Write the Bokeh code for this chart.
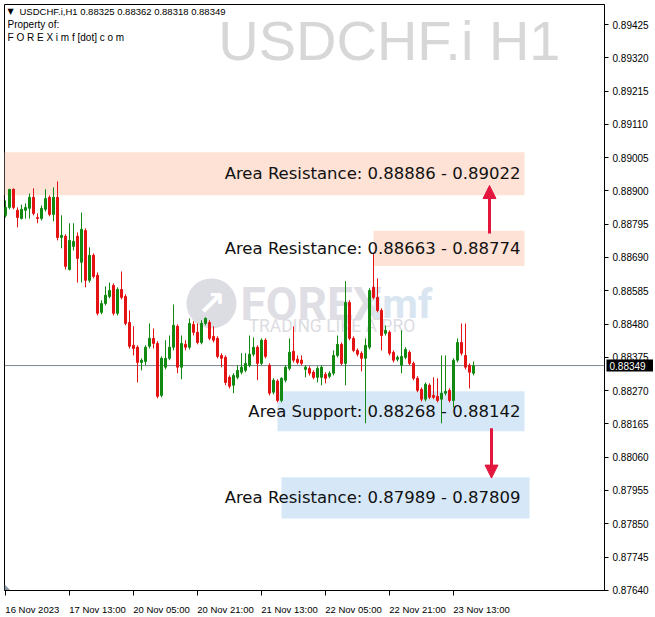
from bokeh.plotting import figure
from bokeh.models import (Range1d, LinearAxis, FixedTicker, PrintfTickFormatter, CustomJSTickFormatter,
                          ColumnDataSource, BoxAnnotation, Label, Span, Arrow, NormalHead)
from bokeh.core.properties import value
from bokeh.embed import file_html
from bokeh.resources import INLINE

# ---------------- data ----------------
symbol_info = "USDCHF.i,H1  0.88325 0.88362 0.88318 0.88349"
watermark = "USDCHF.i H1"

opens = [0.88823, 0.88848, 0.88905, 0.88839, 0.88813, 0.88839, 0.88845, 0.88880, 0.88816, 0.88813,
         0.88842, 0.88880, 0.88826, 0.88880, 0.88753, 0.88757, 0.88652, 0.88725, 0.88757, 0.88675,
         0.88775, 0.88618, 0.88697, 0.88634, 0.88517, 0.88545, 0.88567, 0.88602, 0.88514, 0.88589,
         0.88567, 0.88485, 0.88413, 0.88407, 0.88359, 0.88362, 0.88410, 0.88435, 0.88419, 0.88255,
         0.88344, 0.88372, 0.88407, 0.88473, 0.88344, 0.88416, 0.88407, 0.88479, 0.88454, 0.88422,
         0.88482, 0.88485, 0.88441, 0.88435, 0.88381, 0.88375, 0.88312, 0.88287, 0.88312, 0.88328,
         0.88334, 0.88350, 0.88385, 0.88407, 0.88356, 0.88429, 0.88350, 0.88265, 0.88300, 0.88239,
         0.88303, 0.88340, 0.88394, 0.88369, 0.88366, 0.88337, 0.88340, 0.88328, 0.88312, 0.88312,
         0.88321, 0.88315, 0.88325, 0.88381, 0.88416, 0.88356, 0.88548, 0.88435, 0.88397, 0.88388,
         0.88372, 0.88407, 0.88596, 0.88564, 0.88523, 0.88451, 0.88454, 0.88391, 0.88369, 0.88350,
         0.88375, 0.88391, 0.88356, 0.88309, 0.88274, 0.88243, 0.88287, 0.88255, 0.88252, 0.88243,
         0.88262, 0.88271, 0.88239, 0.88366, 0.88422, 0.88381, 0.88350, 0.88325]
highs = [0.88870, 0.88905, 0.88908, 0.88848, 0.88857, 0.88861, 0.88892, 0.88908, 0.88829, 0.88854,
         0.88905, 0.88886, 0.88911, 0.88930, 0.88823, 0.88763, 0.88798, 0.88798, 0.88769, 0.88832,
         0.88782, 0.88722, 0.88703, 0.88643, 0.88555, 0.88599, 0.88611, 0.88608, 0.88596, 0.88646,
         0.88574, 0.88523, 0.88473, 0.88413, 0.88372, 0.88413, 0.88482, 0.88466, 0.88426, 0.88378,
         0.88429, 0.88444, 0.88542, 0.88479, 0.88444, 0.88429, 0.88498, 0.88489, 0.88482, 0.88492,
         0.88501, 0.88492, 0.88473, 0.88441, 0.88388, 0.88381, 0.88318, 0.88325, 0.88350, 0.88388,
         0.88388, 0.88444, 0.88438, 0.88413, 0.88435, 0.88435, 0.88356, 0.88309, 0.88306, 0.88312,
         0.88350, 0.88435, 0.88473, 0.88381, 0.88381, 0.88350, 0.88347, 0.88334, 0.88347, 0.88350,
         0.88328, 0.88331, 0.88397, 0.88444, 0.88422, 0.88615, 0.88555, 0.88441, 0.88403, 0.88394,
         0.88435, 0.88593, 0.88703, 0.88624, 0.88530, 0.88476, 0.88460, 0.88397, 0.88381, 0.88460,
         0.88407, 0.88397, 0.88362, 0.88315, 0.88280, 0.88296, 0.88293, 0.88312, 0.88309, 0.88381,
         0.88381, 0.88277, 0.88372, 0.88435, 0.88482, 0.88482, 0.88356, 0.88362]
lows = [0.88816, 0.88842, 0.88842, 0.88785, 0.88810, 0.88813, 0.88813, 0.88823, 0.88798, 0.88807,
        0.88835, 0.88820, 0.88804, 0.88744, 0.88719, 0.88652, 0.88649, 0.88712, 0.88611, 0.88611,
        0.88596, 0.88611, 0.88624, 0.88507, 0.88511, 0.88539, 0.88561, 0.88507, 0.88507, 0.88558,
        0.88476, 0.88403, 0.88381, 0.88296, 0.88334, 0.88350, 0.88403, 0.88403, 0.88246, 0.88249,
        0.88337, 0.88366, 0.88397, 0.88325, 0.88306, 0.88397, 0.88400, 0.88444, 0.88416, 0.88416,
        0.88476, 0.88429, 0.88422, 0.88372, 0.88344, 0.88287, 0.88277, 0.88262, 0.88306, 0.88321,
        0.88328, 0.88344, 0.88378, 0.88303, 0.88350, 0.88372, 0.88255, 0.88258, 0.88233, 0.88233,
        0.88296, 0.88334, 0.88359, 0.88353, 0.88350, 0.88312, 0.88318, 0.88306, 0.88296, 0.88287,
        0.88293, 0.88309, 0.88318, 0.88375, 0.88350, 0.88287, 0.88429, 0.88391, 0.88378, 0.88331,
        0.88167, 0.88400, 0.88558, 0.88517, 0.88397, 0.88444, 0.88381, 0.88359, 0.88362, 0.88325,
        0.88369, 0.88350, 0.88303, 0.88265, 0.88236, 0.88236, 0.88243, 0.88243, 0.88233, 0.88167,
        0.88255, 0.88233, 0.88217, 0.88359, 0.88381, 0.88337, 0.88277, 0.88318]
closes = [0.88848, 0.88905, 0.88848, 0.88816, 0.88842, 0.88848, 0.88880, 0.88829, 0.88813, 0.88845,
          0.88876, 0.88826, 0.88880, 0.88753, 0.88760, 0.88662, 0.88744, 0.88741, 0.88687, 0.88779,
          0.88618, 0.88697, 0.88630, 0.88514, 0.88545, 0.88571, 0.88586, 0.88514, 0.88589, 0.88564,
          0.88482, 0.88410, 0.88403, 0.88359, 0.88366, 0.88407, 0.88435, 0.88419, 0.88252, 0.88372,
          0.88372, 0.88407, 0.88476, 0.88344, 0.88419, 0.88407, 0.88482, 0.88454, 0.88422, 0.88482,
          0.88498, 0.88435, 0.88429, 0.88378, 0.88372, 0.88296, 0.88284, 0.88318, 0.88334, 0.88344,
          0.88356, 0.88385, 0.88407, 0.88356, 0.88429, 0.88378, 0.88262, 0.88303, 0.88239, 0.88309,
          0.88344, 0.88391, 0.88366, 0.88359, 0.88356, 0.88344, 0.88325, 0.88312, 0.88340, 0.88344,
          0.88309, 0.88325, 0.88381, 0.88416, 0.88356, 0.88548, 0.88435, 0.88397, 0.88385, 0.88372,
          0.88413, 0.88586, 0.88564, 0.88523, 0.88444, 0.88460, 0.88388, 0.88366, 0.88375, 0.88378,
          0.88400, 0.88356, 0.88309, 0.88271, 0.88243, 0.88290, 0.88249, 0.88249, 0.88239, 0.88262,
          0.88268, 0.88239, 0.88366, 0.88422, 0.88388, 0.88344, 0.88328, 0.88349]

time_tick_bars = [0, 16, 32, 48, 64, 80, 96, 112]
time_tick_labels = ["16 Nov 2023", "17 Nov 13:00", "20 Nov 05:00", "20 Nov 21:00",
                    "21 Nov 13:00", "22 Nov 05:00", "22 Nov 21:00", "23 Nov 13:00"]
price_ticks = [0.87640, 0.87745, 0.87850, 0.87955, 0.88060, 0.88165, 0.88270, 0.88375, 0.88480,
               0.88585, 0.88690, 0.88795, 0.88900, 0.89005, 0.89110, 0.89215, 0.89320, 0.89425]
last_price = 0.88349

zone_texts = ["Area Resistance: 0.88886 - 0.89022", "Area Resistance: 0.88663 - 0.88774",
              "Area Support: 0.88268 - 0.88142", "Area Resistance: 0.87989 - 0.87809"]
zone_lows = [0.88886, 0.88663, 0.88142, 0.87867]
zone_highs = [0.89022, 0.88774, 0.88268, 0.87997]
zone_kinds = ["res", "res", "sup", "sup"]

# ---------------- styling ----------------
BULL = "#128a12"
BEAR = "#e41212"
RES_FILL = "#fde2d5"
SUP_FILL = "#d6e8f8"
ARROW = "#e3173d"
FONT = "Liberation Sans"

n = len(opens)
bars = list(range(n))
colors = [BULL if c >= o else BEAR for o, c in zip(opens, closes)]
src = ColumnDataSource(dict(
    x=bars, o=opens, h=highs, l=lows, c=closes,
    top=[max(o, c) for o, c in zip(opens, closes)],
    bottom=[min(o, c) for o, c in zip(opens, closes)],
    color=colors))

p = figure(frame_width=600, frame_height=586,
           x_range=Range1d(-0.25, 149.75), y_range=Range1d(0.876395, 0.894881),
           output_backend="svg", toolbar_location=None,
           x_axis_location=None, y_axis_location=None,
           min_border_left=4, min_border_top=4, min_border_right=49, min_border_bottom=25)
p.grid.visible = False
p.outline_line_color = "black"
p.outline_line_width = 1
p.background_fill_color = "white"
p.border_fill_color = "white"

# right price axis
yaxis = LinearAxis(ticker=FixedTicker(ticks=price_ticks),
                   formatter=PrintfTickFormatter(format="%.5f"))
yaxis.axis_line_color = "black"
yaxis.major_tick_in = 0
yaxis.major_tick_out = 4
yaxis.minor_tick_line_color = None
yaxis.major_label_standoff = 4
yaxis.major_label_text_font = FONT
yaxis.major_label_text_font_size = "10px"
yaxis.major_label_text_color = "black"
p.add_layout(yaxis, "right")

# bottom time axis: tick marks at the bars (minor ticks), labels left-aligned to them
label_centers = [b + (6.7 if i == 0 else 7.0) for i, b in enumerate(time_tick_bars)]
xaxis = LinearAxis(ticker=FixedTicker(ticks=label_centers, minor_ticks=time_tick_bars),
                   formatter=CustomJSTickFormatter(args=dict(labels=time_tick_labels),
                                                   code="return labels[index] || ''"))
xaxis.axis_line_color = "black"
xaxis.major_tick_line_color = None
xaxis.major_tick_in = 0
xaxis.major_tick_out = 0
xaxis.minor_tick_line_color = "black"
xaxis.minor_tick_in = 0
xaxis.minor_tick_out = 5
xaxis.major_label_standoff = 8
xaxis.major_label_text_font = FONT
xaxis.major_label_text_font_size = "9.5px"
xaxis.major_label_text_color = "black"
p.add_layout(xaxis, "below")

# zones
zone_left = [-0.25, 92, 68, 69]
zone_right = [129.75, 129.75, 129.75, 131]
for lo, hi, k, l, r in zip(zone_lows, zone_highs, zone_kinds, zone_left, zone_right):
    p.add_layout(BoxAnnotation(left=l, right=r, bottom=lo, top=hi,
                               fill_color=RES_FILL if k == "res" else SUP_FILL, fill_alpha=1,
                               line_color=None, level="underlay"))

# watermarks
p.add_layout(Label(x=138.75, y=0.89375, text=watermark, text_align="right",
                   text_baseline="middle", text_font=FONT, text_font_size="56px",
                   text_color="#d7d7d7", level="underlay"))
p.scatter(x=[51.5], y=[0.88545], size=50, marker="circle", fill_color="#dcdce3",
          line_color=None, level="underlay")
p.add_layout(Label(x=51.5, y=0.88545, text="\u2197", text_align="center", text_baseline="middle",
                   text_font="DejaVu Sans", text_font_size="34px", text_font_style="bold",
                   text_color="white", level="underlay"))
p.add_layout(Label(x=58.75, y=0.88542, text="FOREX", text_align="left", text_baseline="middle",
                   text_font="Roboto", text_font_size="46px", text_font_style="bold",
                   text_color="#dedee4", level="underlay"))
p.add_layout(Label(x=91.5, y=0.88542, text="imf", text_align="left", text_baseline="middle",
                   text_font="Roboto", text_font_size="41px", text_font_style="bold",
                   text_color="#d9e5f0", level="underlay"))
p.add_layout(Label(x=60.75, y=0.88474, text="TRADING LIKE A PRO", text_align="left",
                   text_baseline="middle", text_font="Roboto", text_font_size="17.5px",
                   text_color="#dcdce2", level="underlay"))

# current price line
p.add_layout(Span(location=last_price, dimension="width", line_color="#7a8793", line_width=1,
                  level="underlay"))

# small chart-shift marker in the lower-left corner
p.patch(x=[-0.25, -0.25, 1.25], y=[0.87659, 0.876395, 0.876395], fill_color="#8a97a5",
        line_color=None, level="underlay")

# candles
p.segment(x0="x", y0="l", x1="x", y1="h", color="color", line_width=1, source=src)
p.vbar(x="x", width=0.5, top="top", bottom="bottom", fill_color="color", line_color="color",
       line_width=1, source=src)

# zone texts
for txt, lo, hi in zip(zone_texts, zone_lows, zone_highs):
    p.add_layout(Label(x=128.75, y=(lo + hi) / 2, text=txt, text_align="right", text_baseline="middle",
                       text_font="DejaVu Sans", text_font_size="16.5px", text_color="#111111"))

# arrows
p.add_layout(Arrow(end=NormalHead(size=13, fill_color=ARROW, line_color=ARROW),
                   x_start=121, y_start=0.88766, x_end=121, y_end=0.88917,
                   line_color=ARROW, line_width=3))
p.add_layout(Arrow(end=NormalHead(size=13, fill_color=ARROW, line_color=ARROW),
                   x_start=121.5, y_start=0.88151, x_end=121.5, y_end=0.87994,
                   line_color=ARROW, line_width=3))

# header texts
p.add_layout(Label(x=1.25, y=0.89466, text="\u25BC", text_align="center", text_baseline="middle",
                   text_font="DejaVu Sans", text_font_size="8px", text_color="black"))
p.add_layout(Label(x=3.5, y=0.89466, text=symbol_info, text_align="left", text_baseline="middle",
                   text_font=FONT, text_font_size="9.5px", text_color="black"))
p.add_layout(Label(x=0.5, y=0.89425, text="Property of:", text_align="left", text_baseline="middle",
                   text_font=FONT, text_font_size="10px", text_color="black"))
p.add_layout(Label(x=0.5, y=0.89384, text="F O R E X i m f [dot] c o m", text_align="left",
                   text_baseline="middle", text_font=FONT, text_font_size="10px", text_color="black"))

# last price tag on the price axis (overlay level glyphs are not clipped to the frame)
tag_half = 0.00019
p.quad(left=[150.25], right=[162.0], bottom=[last_price - tag_half], top=[last_price + tag_half],
       fill_color="black", line_color=None, level="overlay")
p.text(x=[151.0], y=[last_price], text=["%.5f" % last_price], text_align="left",
       text_baseline="middle", text_font=value(FONT), text_font_size="10px",
       text_color="white", level="overlay")

open("out.html", "w").write(file_html(p, INLINE))
